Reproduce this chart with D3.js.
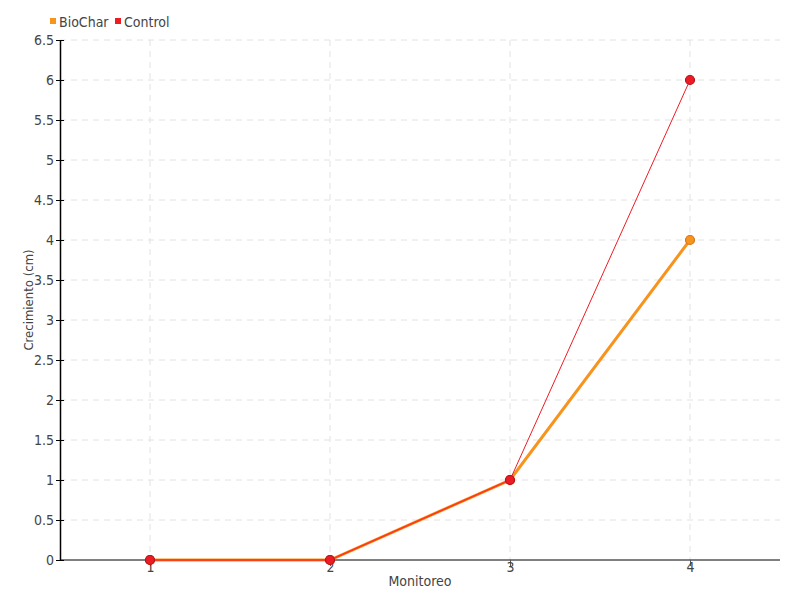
<!DOCTYPE html>
<html>
<head>
<meta charset="utf-8">
<script src="https://cdn.jsdelivr.net/npm/d3@7"></script>
<style>
body { margin: 0; background: #fff; }
text { font-family: "DejaVu Sans Condensed", "DejaVu Sans", sans-serif; fill: #444; }
</style>
</head>
<body>
<svg width="800" height="600"></svg>
<script>
var categories = ["1", "2", "3", "4"];
var biochar = [0, 0, 1, 4];
var control = [0, 0, 1, 6];
var yTicks = [0, 0.5, 1, 1.5, 2, 2.5, 3, 3.5, 4, 4.5, 5, 5.5, 6, 6.5];

var series = [
    {name: "BioChar", values: biochar, color: "#f7941d", stroke: "#d9731a", width: 3},
    {name: "Control", values: control, color: "#ed1c24", stroke: "#b5121b", width: 1}
];

var svg = d3.select("svg");
var plotLeft = 60, plotRight = 780, plotTop = 40, plotBottom = 560;

var x = d3.scalePoint().domain(categories).range([plotLeft, plotRight]).padding(0.5);
var y = d3.scaleLinear().domain([0, 6.5]).range([plotBottom, plotTop]);

// grid
svg.append("g").selectAll("line").data(yTicks.filter(function(d) { return d > 0; }))
    .enter().append("line")
    .attr("x1", plotLeft).attr("x2", plotRight)
    .attr("y1", function(d) { return y(d); }).attr("y2", function(d) { return y(d); })
    .attr("stroke", "#e2e2e2").attr("stroke-dasharray", "6,5");
svg.append("g").selectAll("line").data(categories)
    .enter().append("line")
    .attr("x1", function(d) { return x(d); }).attr("x2", function(d) { return x(d); })
    .attr("y1", plotTop).attr("y2", plotBottom)
    .attr("stroke", "#e2e2e2").attr("stroke-dasharray", "6,5");

// axes
var yAxis = svg.append("g").attr("transform", "translate(" + plotLeft + ",0)")
    .call(d3.axisLeft(y).tickValues(yTicks).tickSize(4).tickSizeOuter(0).tickFormat(d3.format("")));
yAxis.select(".domain").attr("stroke", "#000").attr("stroke-width", 1.5);
yAxis.selectAll(".tick line").attr("x2", 4).attr("x1", -4).attr("stroke", "#000");
yAxis.selectAll("text").attr("x", -6).style("font-size", "14px");

var xAxis = svg.append("g").attr("transform", "translate(0," + plotBottom + ")")
    .call(d3.axisBottom(x).tickSize(6).tickSizeOuter(0));
xAxis.select(".domain").attr("d", "M" + plotLeft + ",0H" + plotRight).attr("stroke", "#000");
xAxis.selectAll(".tick line").attr("stroke", "#555");
xAxis.selectAll("text").attr("y", 2).style("font-size", "14px");

svg.append("text").attr("x", (plotLeft + plotRight) / 2).attr("y", 586)
    .attr("text-anchor", "middle").style("font-size", "14px").text("Monitoreo");
svg.append("text").attr("transform", "translate(33," + (plotTop + plotBottom) / 2 + ") rotate(-90)")
    .attr("text-anchor", "middle").style("font-size", "13px").text("Crecimiento (cm)");

// lines
var line = d3.line()
    .x(function(d, i) { return x(categories[i]); })
    .y(function(d) { return y(d); });

series.forEach(function(s) {
    svg.append("path").datum(s.values)
        .attr("d", line)
        .attr("fill", "none")
        .attr("stroke", s.color)
        .attr("stroke-width", s.width);
});
// control line over the part where both series overlap
svg.append("path").datum(control.slice(0, 3))
    .attr("d", line).attr("fill", "none")
    .attr("stroke", "#ff3b1a").attr("stroke-width", 1.5);

series.forEach(function(s) {
    svg.append("g").selectAll("circle").data(s.values)
        .enter().append("circle")
        .attr("cx", function(d, i) { return x(categories[i]); })
        .attr("cy", function(d) { return y(d); })
        .attr("r", 4.5)
        .attr("fill", s.color)
        .attr("stroke", s.stroke)
        .attr("stroke-width", 1.2);
});

// legend
var legend = svg.append("g").selectAll("g").data(series).enter().append("g")
    .attr("transform", function(d, i) { return "translate(" + (50 + i * 65) + ",0)"; });
legend.append("rect").attr("x", 0).attr("y", 18).attr("width", 6).attr("height", 6)
    .attr("fill", function(d) { return d.color; });
legend.append("text").attr("x", 9).attr("y", 27).style("font-size", "14px")
    .text(function(d) { return d.name; });
</script>
</body>
</html>
